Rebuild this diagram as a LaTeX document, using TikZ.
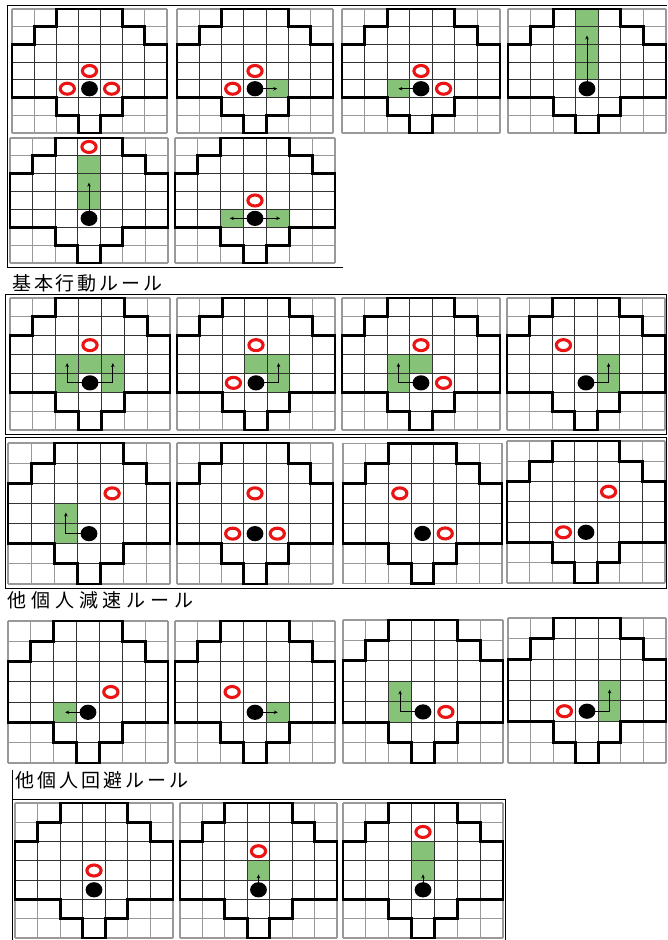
\documentclass[tikz,border=0pt]{standalone}
\usepackage{fontspec}
\newfontfamily\jpfont{Noto Sans CJK JP}
\usetikzlibrary{arrows.meta}
\definecolor{cellgreen}{RGB}{134,195,120}
\definecolor{ringred}{RGB}{235,20,20}
\tikzset{
  greencell/.style={fill=cellgreen},
  gridout/.style={draw=black!40,line width=1.1pt},
  gridin/.style={draw=black!80,line width=1.1pt},
  outline/.style={draw=black,line width=2.8pt,line join=miter},
  redring/.style={draw=ringred,line width=3.1pt,fill=white},
  arr/.style={draw=black,line width=0.9pt,-{Stealth[length=4pt,width=3.5pt]}},
  darr/.style={draw=black,line width=0.9pt,{Stealth[length=4pt,width=3.5pt]}-{Stealth[length=4pt,width=3.5pt]}},
  framel/.style={draw=black,line width=1pt},
  rulelabel/.style={anchor=west,inner sep=0pt,font=\jpfont\fontsize{19}{19}\selectfont}
}
\newcommand\outl[1]{\path[#1] (2,0) -- (5,0) -- (5,1) -- (6,1) -- (6,2) -- (7,2) -- (7,5) -- (5,5) -- (5,6) -- (4,6) -- (4,7) -- (3,7) -- (3,6) -- (2,6) -- (2,5) -- (0,5) -- (0,2) -- (1,2) -- (1,1) -- (2,1) -- cycle;}
\newcommand\gc[2]{\path[greencell] (#1,#2) rectangle ++(1,1);}
\newcommand\rg[2]{\path[redring] (#1+0.5,#2+0.5) ellipse [x radius=7.1pt, y radius=5.5pt];}
\newcommand\agent{\fill[black] (3.5,4.5) ellipse [x radius=8.4pt, y radius=7.6pt];}
\newcommand\gridpanel[6]{%
  \pgfmathsetmacro\cw{#3/7}\pgfmathsetmacro\ch{#4/7}%
  \begin{scope}[shift={(#1pt,-#2pt)}, x=\cw pt, y=-\ch pt]
    #5
    \foreach \i in {0,...,7}{\path[gridout] (\i,0) -- (\i,7); \path[gridout] (0,\i) -- (7,\i);}
    \begin{scope}
      \outl{clip}
      \foreach \i in {0,...,7}{\path[gridin] (\i,0) -- (\i,7); \path[gridin] (0,\i) -- (7,\i);}
    \end{scope}
    \outl{outline}
    #6
  \end{scope}}
\begin{document}
\begin{tikzpicture}[x=1pt,y=-1pt]
\useasboundingbox[fill=white] (0,0) rectangle (667,940);
% frames
\path[framel] (667,5) -- (7,5) -- (7,267) -- (343,267);
\path[framel] (5,294) rectangle (666,434);
\path[framel] (5,437) rectangle (666,588);
\path[framel] (12,770) -- (12,940);
\path[framel] (12,799) -- (505,799) -- (505,940);
% labels
\node[rulelabel] (l1) at (12,283) {\addfontfeatures{LetterSpace=15}基本行動ルール};
\node[rulelabel] (l2) at (7,600) {\addfontfeatures{LetterSpace=26}他個人減速ルール};
\node[rulelabel] (l3) at (15,780) {\addfontfeatures{LetterSpace=16}他個人回避ルール};
% row 1
\gridpanel{12}{9}{155}{124}{}{\agent\rg{3}{3}\rg{2}{4}\rg{4}{4}}
\gridpanel{177}{9}{156}{124}{\gc{4}{4}}{\agent\rg{3}{3}\rg{2}{4}\path[arr] (3.5,4.5) -- (4.5,4.5);}
\gridpanel{342}{9}{158}{124}{\gc{2}{4}}{\agent\rg{3}{3}\rg{4}{4}\path[arr] (3.5,4.5) -- (2.5,4.5);}
\gridpanel{508}{9}{158}{124}{\gc{3}{0}\gc{3}{1}\gc{3}{2}\gc{3}{3}}{\agent\path[arr] (3.5,4.5) -- (3.5,1.5);}
% row 2
\gridpanel{10}{138}{158}{125}{\gc{3}{1}\gc{3}{2}\gc{3}{3}}{\agent\rg{3}{0}\path[arr] (3.5,4.5) -- (3.5,2.5);}
\gridpanel{175}{138}{160}{125}{\gc{2}{4}\gc{4}{4}}{\agent\rg{3}{3}\path[darr] (2.4,4.5) -- (4.6,4.5);}
% row 3
\gridpanel{10}{298}{160}{132}{\gc{2}{3}\gc{3}{3}\gc{4}{3}\gc{2}{4}\gc{4}{4}}{\agent\rg{3}{2}\path[arr] (3.5,4.5) -- (2.5,4.5) -- (2.5,3.45);\path[arr] (3.5,4.5) -- (4.5,4.5) -- (4.5,3.45);}
\gridpanel{177}{298}{158}{132}{\gc{3}{3}\gc{4}{3}\gc{4}{4}}{\agent\rg{3}{2}\rg{2}{4}\path[arr] (3.5,4.5) -- (4.5,4.5) -- (4.5,3.45);}
\gridpanel{342}{298}{158}{132}{\gc{2}{3}\gc{3}{3}\gc{2}{4}}{\agent\rg{3}{2}\rg{4}{4}\path[arr] (3.5,4.5) -- (2.5,4.5) -- (2.5,3.45);}
\gridpanel{507}{298}{158}{132}{\gc{4}{3}\gc{4}{4}}{\agent\rg{2}{2}\path[arr] (3.5,4.5) -- (4.5,4.5) -- (4.5,3.45);}
% row 4
\gridpanel{8}{443}{162}{141}{\gc{2}{3}\gc{2}{4}}{\agent\rg{4}{2}\path[arr] (3.5,4.5) -- (2.5,4.5) -- (2.5,3.45);}
\gridpanel{177}{443}{156}{141}{}{\agent\rg{3}{2}\rg{2}{4}\rg{4}{4}}
\gridpanel{343}{443.3}{159}{140.2}{}{\agent\rg{2}{2}\rg{4}{4}}
\gridpanel{507}{441}{158}{142}{}{\agent\rg{4}{2}\rg{2}{4}}
% row 5
\gridpanel{8}{621}{160}{142}{\gc{2}{4}}{\agent\rg{4}{3}\path[arr] (3.5,4.5) -- (2.5,4.5);}
\gridpanel{175}{621}{160}{142}{\gc{4}{4}}{\agent\rg{2}{3}\path[arr] (3.5,4.5) -- (4.5,4.5);}
\gridpanel{343}{620}{160}{143}{\gc{2}{3}\gc{2}{4}}{\agent\rg{4}{4}\path[arr] (3.5,4.5) -- (2.5,4.5) -- (2.5,3.45);}
\gridpanel{508}{618}{158}{145}{\gc{4}{3}\gc{4}{4}}{\agent\rg{2}{4}\path[arr] (3.5,4.5) -- (4.5,4.5) -- (4.5,3.45);}
% row 6
\gridpanel{15}{803}{158}{135}{}{\agent\rg{3}{3}}
\gridpanel{180}{803}{157}{135}{\gc{3}{3}}{\agent\rg{3}{2}\path[arr] (3.5,4.45) -- (3.5,3.7);}
\gridpanel{343}{803}{160}{135}{\gc{3}{2}\gc{3}{3}}{\agent\rg{3}{1}\path[arr] (3.5,4.45) -- (3.5,3.7);}
\end{tikzpicture}
\end{document}
